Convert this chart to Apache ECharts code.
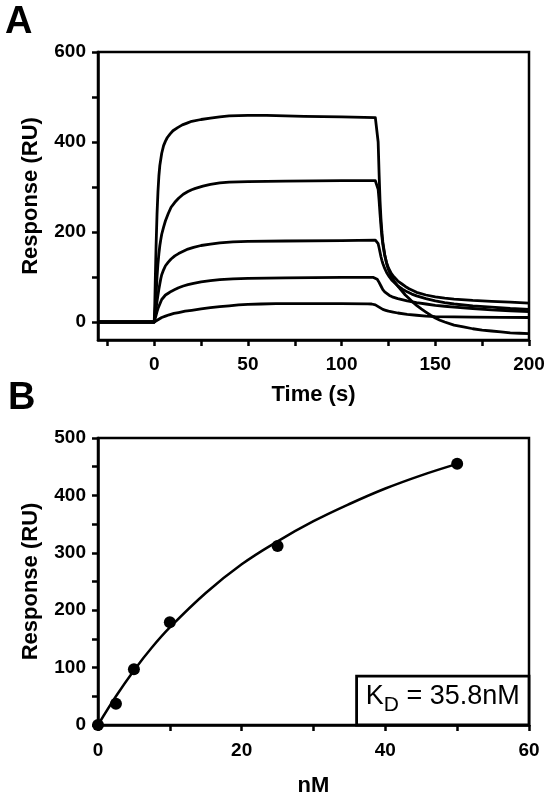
<!DOCTYPE html>
<html>
<head>
<meta charset="utf-8">
<script src="https://cdn.jsdelivr.net/npm/echarts@6/dist/echarts.min.js"></script>
<style>
html,body{margin:0;padding:0;background:#fff;}
#chart{width:553px;height:794px;}
</style>
</head>
<body>
<div id="chart"></div>
<script>
// ---------- Panel A: sensorgrams (time s, response RU) ----------
const curve1 = [[-30,0],[-15,0],[0,0],[0.3,40],[0.6,100],[1,170],[1.5,240],[2,290],[2.5,325],[3,348],[4,375],[5,392],[6,402],[7,410],[8.5,418],[10,425],[12.5,432],[15,438],[17.5,442],[20,446],[25,450],[30,453],[35,456],[40,458],[50,459],[60,459],[80,457],[100,456],[118,454],[119,452],[119.5,400],[120,330],[120.5,270],[121,230],[121.5,200],[122,178],[123,150],[124,130],[125,116],[126.5,102],[128,91],[130,80],[132,70],[134,60],[136,52],[138,44],[140,37],[142.5,29],[145,22],[147.5,15],[150,9],[152.5,4],[155,0],[160,-7],[165,-11],[170,-15],[175,-18],[180,-20],[185,-22],[190,-24],[195,-25],[200,-26]];
const curve2 = [[-30,0],[-15,0],[0,0],[0.5,25],[1,60],[1.5,100],[2,130],[2.5,152],[3,170],[3.5,183],[4,195],[5,211],[6,225],[7.5,241],[9,255],[11,266],[13,275],[15.5,284],[18,290],[20,294],[22,297],[26,302],[30,306],[35,309],[40,311],[50,312],[70,313],[100,314],[118,314],[119,312],[119.5,295],[120,270],[120.5,240],[121,213],[121.5,190],[122,172],[123,148],[124,132],[125,120],[126.5,108],[128,100],[130,91],[132,85],[134,79],[136,74],[138,70],[140,66],[145,60],[150,56],[155,53],[160,51],[170,48],[180,46],[190,44],[200,42]];
const curve3 = [[-30,0],[-15,0],[0,0],[0.5,15],[1,30],[1.5,46],[2,60],[2.5,73],[3,85],[3.5,96],[4,105],[5,116],[6,125],[7.5,133],[9,140],[11,147],[13,152],[15.5,157],[18,162],[21,166],[25,170],[30,173],[35,176],[42,178],[50,179],[70,180],[100,181],[118,182],[119,180],[119.5,174],[120,165],[120.5,155],[121,145],[121.5,137],[122,130],[123,119],[124,110],[125.5,100],[127,92],[128.5,86],[130,80],[132.5,73],[135,67],[137.5,62],[140,58],[145,52],[150,47],[155,43],[160,40],[170,36],[180,33],[190,30],[200,28]];
const curve4 = [[-30,0],[-15,0],[0,0],[0.5,8],[1,15],[1.5,23],[2,30],[2.5,35],[3,40],[3.5,45],[4,50],[5,55],[6,60],[7.5,64],[9,68],[11,72],[13,76],[15.5,80],[18,83],[21,86],[25,89],[30,92],[35,94],[42,96],[50,97],[70,98],[100,99],[117,99],[118,98],[119,95],[120,88],[121,80],[122,72],[123,67],[124,63],[125.5,59],[127,56],[130,52],[135,47],[140,43],[145,40],[150,37],[155,35],[160,33],[170,30],[180,27],[190,25],[200,23]];
const curve5 = [[-30,0],[-15,0],[0,0],[1,2.5],[2,5],[3,7.5],[4,10],[6,13],[8,16],[10.5,19],[13,21],[16.5,24],[20,26],[25,29],[30,32],[35,34],[40,36],[45,38],[50,39],[57,40],[65,41],[80,41],[100,41],[114,40.5],[116,40],[117,39.5],[118,38],[119,36],[120,33],[121,30],[122,28],[123.5,26],[125,24],[127.5,22],[130,20],[135,17],[140,15],[145,13],[150,12],[160,11.5],[170,11],[185,10.5],[200,10]];
const aXLabels = [0,50,100,150,200];
const aXTicks = [-25,0,25,50,75,100,125,150,175,200];
const aYLabels = [0,200,400,600];
const aYTicks = [0,100,200,300,400,500,600];

// ---------- Panel B: steady-state binding (nM, RU) ----------
const concNM = [0,2.5,5,10,25,50];
const respRU = [0,37,97,179,312,455];
const fitX = [0,2.5,5,7.5,10,15,20,25,30,35,40,45,50];
const fitY = [0,50,95,135,170,230,280,320,355,385,412,435,455];
const bXLabels = [0,20,40,60];
const bXTicks = [0,10,20,30,40,50,60];
const bYLabels = [0,100,200,300,400,500];
const bYTicks = [0,50,100,150,200,250,300,350,400,450,500];
const kdText = '35.8nM';
const kdBox = [[36,0],[60,85]];

const FONT = 'Liberation Sans, Arial, sans-serif';
const axisLine = {show:true, onZero:false, lineStyle:{color:'#000', width:2.5}};
const tickLabel = {color:'#000', fontFamily:FONT, fontWeight:'bold', fontSize:19};
const nameStyle = {color:'#000', fontFamily:FONT, fontWeight:'bold', fontSize:22};
function tick(vals){return {show:true, inside:false, length:6, lineStyle:{color:'#000', width:2.5}, customValues:vals};}

const lineSeries = (d) => ({type:'line', xAxisIndex:0, yAxisIndex:0, data:d, showSymbol:false, symbol:'none',
  smooth:false, lineStyle:{color:'#000', width:2.8, join:'round'}, silent:true, animation:false});

const option = {
  animation:false,
  backgroundColor:'#fff',
  grid:[
    {left:98, right:24, top:52, bottom:454, show:true, borderColor:'#000', borderWidth:2.5, outerBoundsMode:'none', containLabel:false},
    {left:98, right:24, top:438, bottom:69, show:true, borderColor:'#000', borderWidth:2.5, outerBoundsMode:'none', containLabel:false}
  ],
  xAxis:[
    {type:'value', gridIndex:0, min:-30, max:200, axisLine:axisLine, axisTick:tick(aXTicks),
     axisLabel:Object.assign({margin:15, customValues:aXLabels}, tickLabel), splitLine:{show:false},
     name:'Time (s)', nameLocation:'middle', nameGap:44, nameTextStyle:nameStyle},
    {type:'value', gridIndex:1, min:0, max:60, axisLine:axisLine, axisTick:tick(bXTicks),
     axisLabel:Object.assign({margin:16, customValues:bXLabels}, tickLabel), splitLine:{show:false},
     name:'nM', nameLocation:'middle', nameGap:50, nameTextStyle:nameStyle}
  ],
  yAxis:[
    {type:'value', gridIndex:0, min:-40, max:600, axisLine:axisLine, axisTick:tick(aYTicks),
     axisLabel:Object.assign({margin:12, customValues:aYLabels}, tickLabel), splitLine:{show:false},
     name:'Response (RU)', nameLocation:'middle', nameGap:56, nameTextStyle:nameStyle},
    {type:'value', gridIndex:1, min:0, max:500, axisLine:axisLine, axisTick:tick(bYTicks),
     axisLabel:Object.assign({margin:12, customValues:bYLabels}, tickLabel), splitLine:{show:false},
     name:'Response (RU)', nameLocation:'middle', nameGap:56, nameTextStyle:nameStyle}
  ],
  series:[
    lineSeries(curve1), lineSeries(curve2), lineSeries(curve3), lineSeries(curve4), lineSeries(curve5),
    {type:'line', xAxisIndex:1, yAxisIndex:1, data:fitX.map((x,i)=>[x,fitY[i]]), showSymbol:false, symbol:'none',
     smooth:0.4, lineStyle:{color:'#000', width:2.5}, silent:true,
     markArea:{silent:true, itemStyle:{color:'#fff', borderColor:'#000', borderWidth:2.8},
       label:{show:true, position:'inside', formatter:'{k|K}{sub|D}{k| = '+kdText+'}',
         rich:{k:{fontFamily:FONT, fontSize:27, color:'#000', lineHeight:30, verticalAlign:'bottom', padding:[0,0,6,0]},
               sub:{fontFamily:FONT, fontSize:21, color:'#000', lineHeight:30, verticalAlign:'bottom'}}},
       data:[[{coord:kdBox[0]},{coord:kdBox[1]}]]}},
    {type:'scatter', xAxisIndex:1, yAxisIndex:1, data:concNM.map((x,i)=>[x,respRU[i]]), symbol:'circle', symbolSize:12,
     itemStyle:{color:'#000', opacity:1}, silent:true, z:5}
  ],
  graphic:[
    {type:'text', left:5, top:4, style:{text:'A', fontFamily:FONT, fontWeight:'bold', fontSize:38, fill:'#000'}},
    {type:'text', left:8, top:380, style:{text:'B', fontFamily:FONT, fontWeight:'bold', fontSize:38, fill:'#000'}}
  ]
};
const chart = echarts.init(document.getElementById('chart'), null, {renderer:'canvas'});
chart.setOption(option);
</script>
</body>
</html>
